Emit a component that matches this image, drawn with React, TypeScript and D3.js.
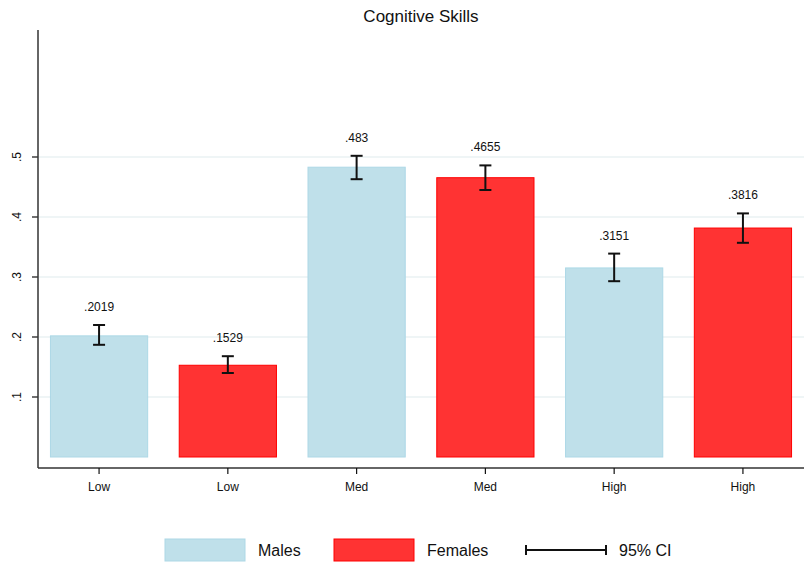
import * as d3 from 'd3';
import React from 'react';

const categories = ['Low', 'Low', 'Med', 'Med', 'High', 'High'];
const groups = ['Males', 'Females', 'Males', 'Females', 'Males', 'Females'];
const means = [0.2019, 0.1529, 0.483, 0.4655, 0.3151, 0.3816];
const ciLow = [0.187, 0.14, 0.463, 0.445, 0.293, 0.357];
const ciHigh = [0.22, 0.168, 0.502, 0.486, 0.339, 0.406];
const yTicks = [0.1, 0.2, 0.3, 0.4, 0.5];
const yTickLabels = ['.1', '.2', '.3', '.4', '.5'];
const valueLabels = ['.2019', '.1529', '.483', '.4655', '.3151', '.3816'];

const colors: Record<string, { fill: string; stroke: string }> = {
  Males: { fill: '#bfe0ea', stroke: '#add8e6' },
  Females: { fill: '#ff3333', stroke: '#ff0000' },
};

const width = 804;
const height = 564;
const font = 'Liberation Sans, Arial, sans-serif';

const App: React.FC = () => {
  const left = 38;
  const axisY = 468;

  const y = d3.scaleLinear().domain([0, 0.5]).range([457, 157]);
  const x = d3
    .scaleBand<number>()
    .domain(d3.range(categories.length))
    .range([35, 807])
    .paddingInner(0.245)
    .paddingOuter(0.12);
  const bw = x.bandwidth();
  const cx = (i: number) => (x(i) as number) + bw / 2;

  return (
    <svg
      width={width}
      height={height}
      style={{ position: 'absolute', left: 0, top: 0, background: 'white' }}
      fontFamily={font}
    >
      <rect width={width} height={height} fill='white' />
      <text x={421} y={22} textAnchor='middle' fontSize={17} fill='#111'>
        Cognitive Skills
      </text>

      {/* grid */}
      {yTicks.map((t, i) => (
        <g key={i}>
          <line x1={left} x2={width} y1={y(t)} y2={y(t)} stroke='#eaf2f3' strokeWidth={1.5} />
          <line x1={left - 6} x2={left} y1={y(t)} y2={y(t)} stroke='#111' strokeWidth={1.2} />
          <text
            transform={`translate(${left - 17},${y(t)}) rotate(-90)`}
            textAnchor='middle'
            fontSize={12}
            fill='#111'
          >
            {yTickLabels[i]}
          </text>
        </g>
      ))}

      {/* bars */}
      {means.map((m, i) => (
        <rect
          key={i}
          x={x(i)}
          y={y(m)}
          width={bw}
          height={y(0) - y(m)}
          fill={colors[groups[i]].fill}
          stroke={colors[groups[i]].stroke}
          strokeWidth={1}
        />
      ))}

      {/* error bars */}
      {means.map((_, i) => (
        <g key={i} stroke='#111' strokeWidth={2}>
          <line x1={cx(i)} x2={cx(i)} y1={y(ciLow[i])} y2={y(ciHigh[i])} />
          <line x1={cx(i) - 6} x2={cx(i) + 6} y1={y(ciLow[i])} y2={y(ciLow[i])} />
          <line x1={cx(i) - 6} x2={cx(i) + 6} y1={y(ciHigh[i])} y2={y(ciHigh[i])} />
        </g>
      ))}

      {valueLabels.map((l, i) => (
        <text
          key={i}
          x={cx(i)}
          y={y(ciHigh[i]) - 14}
          textAnchor='middle'
          fontSize={12}
          fill='#111'
        >
          {l}
        </text>
      ))}

      {/* axes */}
      <line x1={left} x2={left} y1={30} y2={axisY} stroke='#333' strokeWidth={1.5} />
      <line x1={left} x2={width} y1={axisY} y2={axisY} stroke='#333' strokeWidth={1.5} />
      {categories.map((c, i) => (
        <g key={i}>
          <line x1={cx(i)} x2={cx(i)} y1={axisY} y2={axisY + 6} stroke='#111' strokeWidth={1.2} />
          <text x={cx(i)} y={axisY + 23} textAnchor='middle' fontSize={12} fill='#111'>
            {c}
          </text>
        </g>
      ))}

      {/* legend */}
      <rect x={165} y={539} width={80} height={22} fill={colors.Males.fill} stroke={colors.Males.stroke} />
      <text x={258} y={556} fontSize={16} fill='#111'>Males</text>
      <rect x={334} y={539} width={80} height={22} fill={colors.Females.fill} stroke={colors.Females.stroke} />
      <text x={427} y={556} fontSize={16} fill='#111'>Females</text>
      <g stroke='#111' strokeWidth={2}>
        <line x1={526} x2={606} y1={550} y2={550} />
        <line x1={526} x2={526} y1={545} y2={555} />
        <line x1={606} x2={606} y1={545} y2={555} />
      </g>
      <text x={619} y={556} fontSize={16} fill='#111'>95% CI</text>
    </svg>
  );
};

export default App;
